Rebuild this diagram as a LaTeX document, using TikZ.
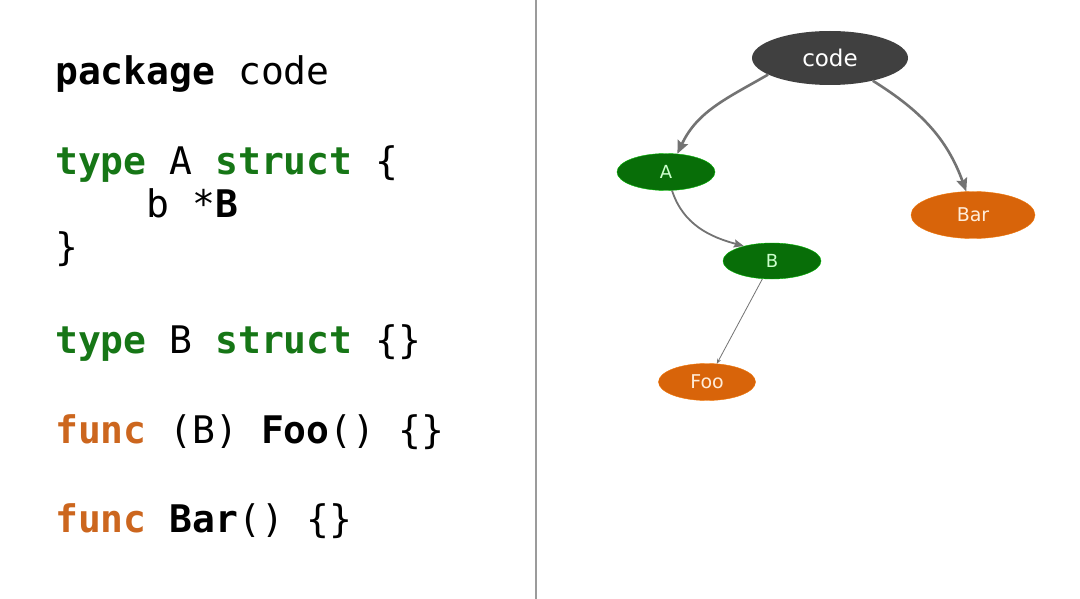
\documentclass[tikz,border=0pt]{standalone}
\usepackage{fontspec}
\setmonofont{DejaVu Sans Mono}
\newfontfamily\graphfont{DejaVu Sans}
\usetikzlibrary{positioning,arrows.meta,shapes.geometric}
\definecolor{kwgreen}{RGB}{22,118,22}
\definecolor{kworange}{RGB}{204,102,30}
\definecolor{pkgclr}{RGB}{64,64,64}
\definecolor{typeclr}{RGB}{8,110,8}
\definecolor{funcclr}{RGB}{216,100,10}
\definecolor{edgeclr}{RGB}{115,115,115}
\definecolor{sepclr}{RGB}{155,155,155}
\newcommand{\kwtype}[1]{{\bfseries\color{kwgreen}#1}}
\newcommand{\kwfunc}[1]{{\bfseries\color{kworange}#1}}
\tikzset{
    codeline/.style={anchor=base west,inner sep=0pt,
                     font=\ttfamily\fontsize{38}{44}\selectfont},
    pkg/.style={ellipse,fill=pkgclr,text=white,inner sep=0pt,
                font=\graphfont\fontsize{23}{26}\selectfont},
    typ/.style={ellipse,fill=typeclr,draw=green!50!typeclr,thin,
                text=green!20,inner sep=0pt,
                font=\graphfont\fontsize{18}{20}\selectfont},
    fn/.style={ellipse,fill=funcclr,draw=orange!60!funcclr,thin,
               text=orange!15,inner sep=0pt,
               font=\graphfont\fontsize{19}{21}\selectfont},
    bigedge/.style={-{Stealth[length=13pt,width=11pt,inset=2pt]},
                    line width=2.6pt,draw=edgeclr},
    midedge/.style={-{Stealth[length=10pt,width=8pt,inset=1.5pt]},
                    line width=1.8pt,draw=edgeclr},
    thinedge/.style={-{Stealth[length=5pt,width=4pt]},
                     line width=0.8pt,draw=edgeclr},
}
\begin{document}
\begin{tikzpicture}[x=1pt,y=-1pt]
\useasboundingbox (0,0) rectangle (1080,599);
\fill[white] (0,0) rectangle (1080,599);
\draw[sepclr,line width=1.8pt] (536,0) -- (536,599);

% source
\node[codeline] (l1) at (55,85)  {{\bfseries package} code};
\node[codeline] (l2) at (55,175) {\kwtype{type} A \kwtype{struct} \{};
\node[codeline] (l3) at (55,218) {\phantom{xxxx}b *{\bfseries B}};
\node[codeline] (l4) at (55,261) {\}};
\node[codeline] (l5) at (55,353) {\kwtype{type} B \kwtype{struct} \{\}};
\node[codeline] (l6) at (55,443) {\kwfunc{func} (B) {\bfseries Foo}() \{\}};
\node[codeline] (l7) at (55,532) {\kwfunc{func} {\bfseries Bar}() \{\}};

% graph
\node[pkg,minimum width=156pt,minimum height=54pt] (code) at (830,58) {code};
\node[typ,minimum width=98pt,minimum height=37pt] (A) at (666,172) {A};
\node[typ,minimum width=98pt,minimum height=36pt] (B) at (772,261) {B};
\node[fn,minimum width=124pt,minimum height=47pt] (Bar) at (973,215) {Bar};
\node[fn,minimum width=97pt,minimum height=37pt] (Foo) at (707,382) {Foo};

\draw[bigedge] (code.195) to[out=210,in=65] (A.58);
\draw[bigedge] (code.-28) to[out=-32,in=110] (Bar.106);
\draw[midedge] (A.-72) to[out=-72,in=165] (B.152);
\draw[thinedge] (B) -- (Foo);
\end{tikzpicture}
\end{document}
